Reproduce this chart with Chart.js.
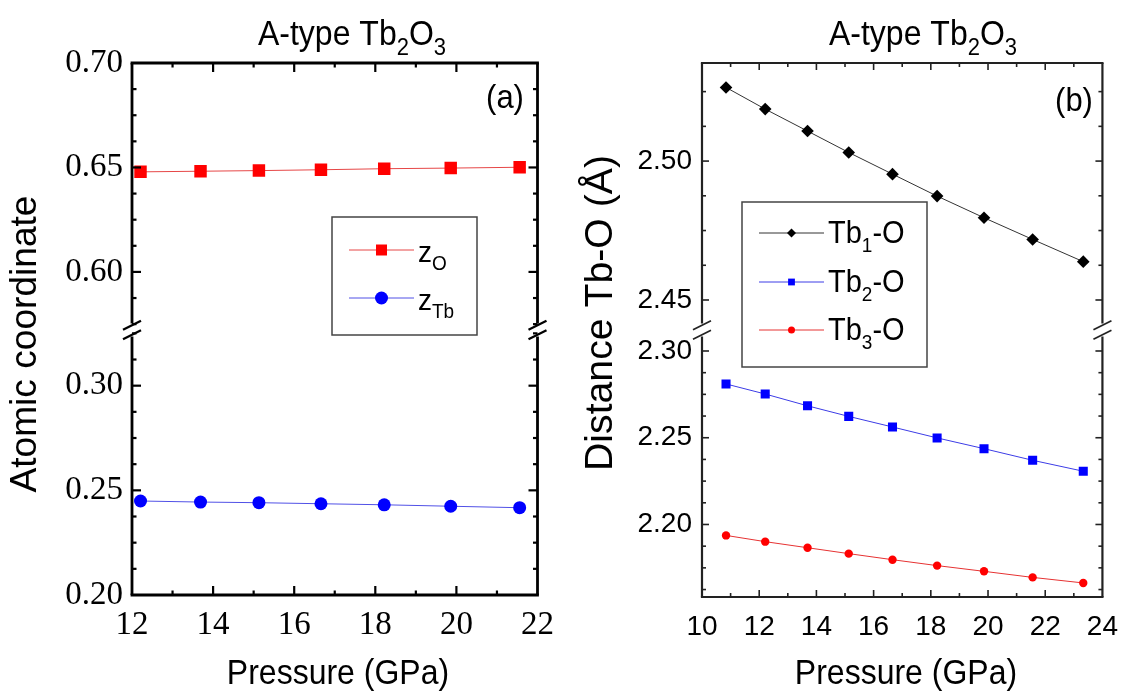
<!DOCTYPE html>
<html>
<head>
<meta charset="utf-8">
<script src="https://cdn.jsdelivr.net/npm/chart.js@4.4.1/dist/chart.umd.min.js"></script>
<style>
  html, body { margin: 0; padding: 0; background: #fff; }
  #wrap { position: relative; width: 1131px; height: 695px; overflow: hidden; }
  #chartA { position: absolute; left: 0; top: 0; }
  #chartB { position: absolute; left: 565px; top: 0; }
</style>
</head>
<body>
<div id="wrap">
  <canvas id="chartA" width="565" height="695"></canvas>
  <canvas id="chartB" width="566" height="695"></canvas>
</div>
<script>
// values
const pressureA = [12.21, 13.69, 15.13, 16.66, 18.22, 19.86, 21.56];
const zO  = [0.6479, 0.6482, 0.6485, 0.6489, 0.6494, 0.6497, 0.6501];
const zTb = [0.2449, 0.2444, 0.2441, 0.2436, 0.2431, 0.2424, 0.2417];

const pressureB = [10.84, 12.21, 13.69, 15.13, 16.66, 18.22, 19.86, 21.56, 23.33];
const tb1O = [2.5265, 2.5187, 2.5108, 2.5031, 2.4953, 2.4874, 2.4796, 2.4718, 2.4638];
const tb2O = [2.2810, 2.2752, 2.2684, 2.2623, 2.2562, 2.2499, 2.2437, 2.2370, 2.2307];
const tb3O = [2.1937, 2.1901, 2.1866, 2.1832, 2.1797, 2.1763, 2.1730, 2.1695, 2.1663];

// axis ranges (upper / lower part of the broken y axis)
const rangeA = { x: [12, 22], top: [0.5722, 0.70], bot: [0.20, 0.3266] };
const rangeB = { x: [10, 24], top: [2.4392, 2.5353], bot: [2.1582, 2.3121] };

const SANS = '"Liberation Sans", Arial, sans-serif';
const SERIF = '"Liberation Serif", "Times New Roman", serif';

function pts(xs, ys) { return xs.map((x, i) => ({ x: x, y: ys[i] })); }
function onStep(v, step) { const r = v / step; return Math.abs(r - Math.round(r)) < 1e-6; }
function seg(ctx, x1, y1, x2, y2) { ctx.beginPath(); ctx.moveTo(x1, y1); ctx.lineTo(x2, y2); ctx.stroke(); }

// text with subscripts: parts = [text, size, dy]
function richText(ctx, parts, x, y, align, stretch) {
  let w = 0;
  parts.forEach(p => { ctx.font = p[1] + 'px ' + SANS; w += ctx.measureText(p[0]).width; });
  let cx = align === 'center' ? x - w / 2 : x;
  ctx.save();
  ctx.translate(0, y);
  ctx.scale(1, stretch || 1);
  ctx.textBaseline = 'alphabetic';
  ctx.textAlign = 'left';
  parts.forEach(p => {
    ctx.font = p[1] + 'px ' + SANS;
    ctx.fillText(p[0], cx, (p[2] || 0) / (stretch || 1));
    cx += ctx.measureText(p[0]).width;
  });
  ctx.restore();
}

function marker(ctx, style, x, y, r) {
  ctx.beginPath();
  if (style === 'circle') {
    ctx.arc(x, y, r, 0, Math.PI * 2);
  } else if (style === 'rectRot') {
    ctx.moveTo(x - r, y); ctx.lineTo(x, y - r); ctx.lineTo(x + r, y); ctx.lineTo(x, y + r); ctx.closePath();
  } else {
    ctx.rect(x - r, y - r, 2 * r, 2 * r);
  }
  ctx.fill();
}

// inward ticks on all four sides, frame, and the break marks
const breakFrame = {
  id: 'breakFrame',
  afterDraw(chart, args, o) {
    const ctx = chart.ctx, a = chart.chartArea;
    const sx = chart.scales.x, top = chart.scales.yTop, bot = chart.scales.yBot;
    const yb = (top.bottom + bot.top) / 2;
    ctx.save();
    ctx.strokeStyle = o.color;
    ctx.lineCap = 'butt';
    ctx.lineWidth = o.tickWidth;
    sx.ticks.forEach(t => {
      if (!onStep(t.value, 1) || t.value <= sx.min || t.value >= sx.max) return;
      const px = sx.getPixelForValue(t.value);
      const len = t.label ? o.major : o.minor;
      seg(ctx, px, a.bottom, px, a.bottom - len);
      seg(ctx, px, a.top, px, a.top + len);
    });
    [top, bot].forEach(s => s.ticks.forEach(t => {
      if (!onStep(t.value, 0.0125) || t.value <= s.min + 1e-9 || t.value >= s.max - 1e-9) return;
      const py = s.getPixelForValue(t.value);
      const len = t.label ? o.major : o.minor;
      seg(ctx, a.left, py, a.left + len, py);
      seg(ctx, a.right, py, a.right - len, py);
    }));
    const hw = o.frameWidth / 2;
    ctx.lineWidth = o.frameWidth;
    seg(ctx, a.left - hw, a.top, a.right + hw, a.top);
    seg(ctx, a.left - hw, a.bottom, a.right + hw, a.bottom);
    [a.left, a.right].forEach(x => {
      ctx.lineWidth = o.frameWidth;
      seg(ctx, x, a.top, x, yb - o.gap);
      seg(ctx, x, yb + o.gap, x, a.bottom);
      ctx.lineWidth = o.slashWidth;
      [-4.75, 4.75].forEach(d => seg(ctx, x - 9, yb + d + 4.5, x + 9, yb + d - 4.5));
    });
    ctx.restore();
  }
};

// titles, axis titles, panel letter and the legend box
const panelText = {
  id: 'panelText',
  afterDraw(chart, args, o) {
    const ctx = chart.ctx;
    ctx.save();
    ctx.fillStyle = '#000';
    richText(ctx, [['A-type Tb', 32], ['2', 22, 10], ['O', 32], ['3', 22, 10]], o.title[0], o.title[1], 'center', 1.1);
    ctx.save();
    ctx.translate(o.yTitle[0], o.yTitle[1]);
    ctx.rotate(-Math.PI / 2);
    ctx.scale(1.06, 1.05);
    ctx.font = o.yTitleSize + 'px ' + SANS;
    ctx.textAlign = 'center';
    ctx.textBaseline = 'middle';
    ctx.fillText(o.yTitleText, 0, 0);
    ctx.restore();
    ctx.save();
    ctx.translate(o.xTitle[0], o.xTitle[1]);
    ctx.scale(1, 1.1);
    ctx.font = '32px ' + SANS;
    ctx.textAlign = 'center';
    ctx.textBaseline = 'middle';
    ctx.fillText('Pressure (GPa)', 0, 0);
    ctx.restore();
    ctx.save();
    ctx.translate(o.letter[0], o.letter[1]);
    ctx.scale(1, 1.1);
    ctx.font = '31px ' + SANS;
    ctx.textAlign = 'center';
    ctx.textBaseline = 'middle';
    ctx.fillText(o.letterText, 0, 0);
    ctx.restore();

    // legend
    const L = o.legend;
    ctx.fillStyle = '#fff';
    ctx.fillRect(L.box[0], L.box[1], L.box[2] - L.box[0], L.box[3] - L.box[1]);
    ctx.strokeStyle = '#444';
    ctx.lineWidth = 1.5;
    ctx.strokeRect(L.box[0], L.box[1], L.box[2] - L.box[0], L.box[3] - L.box[1]);
    chart.data.datasets.forEach((ds, i) => {
      const y = L.rows[i];
      ctx.strokeStyle = ds.borderColor;
      ctx.lineWidth = 1;
      seg(ctx, L.line[0], y, L.line[1], y);
      ctx.fillStyle = ds.pointBackgroundColor;
      marker(ctx, ds.pointStyle, (L.line[0] + L.line[1]) / 2, y, L.markerR[i]);
      ctx.fillStyle = '#000';
      richText(ctx, L.labels[i], L.textX, y + L.baseline, 'left', 1.08);
    });
    ctx.restore();
  }
};

function lineSet(label, xs, ys, axis, line, fill, style, r) {
  return {
    label: label,
    data: pts(xs, ys),
    yAxisID: axis,
    borderColor: line,
    borderWidth: 1,
    pointStyle: style,
    pointRadius: r,
    pointBackgroundColor: fill,
    pointBorderColor: fill,
    pointBorderWidth: 0,
    tension: 0
  };
}

function yScale(range, weight, stackW, font, pad, width) {
  return {
    type: 'linear', position: 'left', stack: 'y', stackWeight: stackW, weight: weight,
    min: range[0], max: range[1],
    grid: { display: false, drawTicks: false },
    border: { display: false },
    ticks: {
      stepSize: 0.0125, autoSkip: false, includeBounds: false, padding: pad, color: '#000', font: font,
      callback: v => onStep(v, 0.05) ? v.toFixed(2) : ''
    },
    afterFit: s => { s.width = width; }
  };
}

function xScale(range, font, pad, height) {
  return {
    type: 'linear', min: range[0], max: range[1],
    grid: { display: false, drawTicks: false },
    border: { display: false },
    ticks: {
      stepSize: 1, autoSkip: false, maxRotation: 0, padding: pad, color: '#000', font: font,
      callback: v => (Math.round(v) % 2 === 0 ? String(Math.round(v)) : '')
    },
    afterFit: s => { s.height = height; }
  };
}

const fontA = { family: SERIF, size: 33 };
const fontB = { family: SANS, size: 28 };

new Chart(document.getElementById('chartA'), {
  type: 'line',
  data: {
    datasets: [
      lineSet('zO', pressureA, zO, 'yTop', 'rgb(230,70,70)', '#ff0000', 'rect', 8.8),
      lineSet('zTb', pressureA, zTb, 'yBot', 'rgb(80,80,230)', '#0000ff', 'circle', 6.5)
    ]
  },
  options: {
    responsive: false,
    animation: false,
    layout: { padding: { top: 63, right: 22, left: 0, bottom: 0 } },
    scales: {
      x: xScale(rangeA.x, fontA, 11, 100),
      yTop: yScale(rangeA.top, 2, 267, fontA, 9, 132),
      yBot: yScale(rangeA.bot, 1, 265, fontA, 9, 132)
    },
    plugins: {
      legend: { display: false },
      tooltip: { enabled: false },
      breakFrame: { color: '#000', tickWidth: 2.2, frameWidth: 2.8, slashWidth: 2.2, major: 9, minor: 4.5, gap: 6.5 },
      panelText: {
        title: [352, 45], yTitle: [26, 344], yTitleText: 'Atomic coordinate', yTitleSize: 35,
        xTitle: [338, 674], letter: [505, 99], letterText: '(a)',
        legend: {
          box: [332, 217, 477, 335], line: [349, 414], rows: [250, 298], markerR: [5.5, 6.5],
          textX: 418, baseline: 12,
          labels: [[['z', 28], ['O', 19, 8]], [['z', 28], ['Tb', 19, 8]]]
        }
      }
    }
  },
  plugins: [breakFrame, panelText]
});

new Chart(document.getElementById('chartB'), {
  type: 'line',
  data: {
    datasets: [
      lineSet('Tb1-O', pressureB, tb1O, 'yTop', '#333333', '#000000', 'rectRot', 6.3),
      lineSet('Tb2-O', pressureB, tb2O, 'yBot', 'rgb(60,60,230)', '#0000ff', 'rect', 6.4),
      lineSet('Tb3-O', pressureB, tb3O, 'yBot', 'rgb(230,50,50)', '#ff0000', 'circle', 4.2)
    ]
  },
  options: {
    responsive: false,
    animation: false,
    layout: { padding: { top: 63, right: 21, left: 0, bottom: 0 } },
    scales: {
      x: xScale(rangeB.x, fontB, 13, 98),
      yTop: yScale(rangeB.top, 2, 267, fontB, 10, 137),
      yBot: yScale(rangeB.bot, 1, 267, fontB, 10, 137)
    },
    plugins: {
      legend: { display: false },
      tooltip: { enabled: false },
      breakFrame: { color: '#222', tickWidth: 1.6, frameWidth: 2.2, slashWidth: 1.6, major: 7, minor: 4, gap: 6.5 },
      panelText: {
        title: [358, 45], yTitle: [36, 313], yTitleText: 'Distance Tb-O (Å)', yTitleSize: 37,
        xTitle: [341, 674], letter: [509, 102], letterText: '(b)',
        legend: {
          box: [177, 202, 362, 367], line: [194, 259], rows: [233, 282, 330], markerR: [4.5, 3.4, 3.5],
          textX: 263, baseline: 10,
          labels: [
            [['Tb', 29], ['1', 19, 9], ['-O', 29]],
            [['Tb', 29], ['2', 19, 9], ['-O', 29]],
            [['Tb', 29], ['3', 19, 9], ['-O', 29]]
          ]
        }
      }
    }
  },
  plugins: [breakFrame, panelText]
});
</script>
</body>
</html>
